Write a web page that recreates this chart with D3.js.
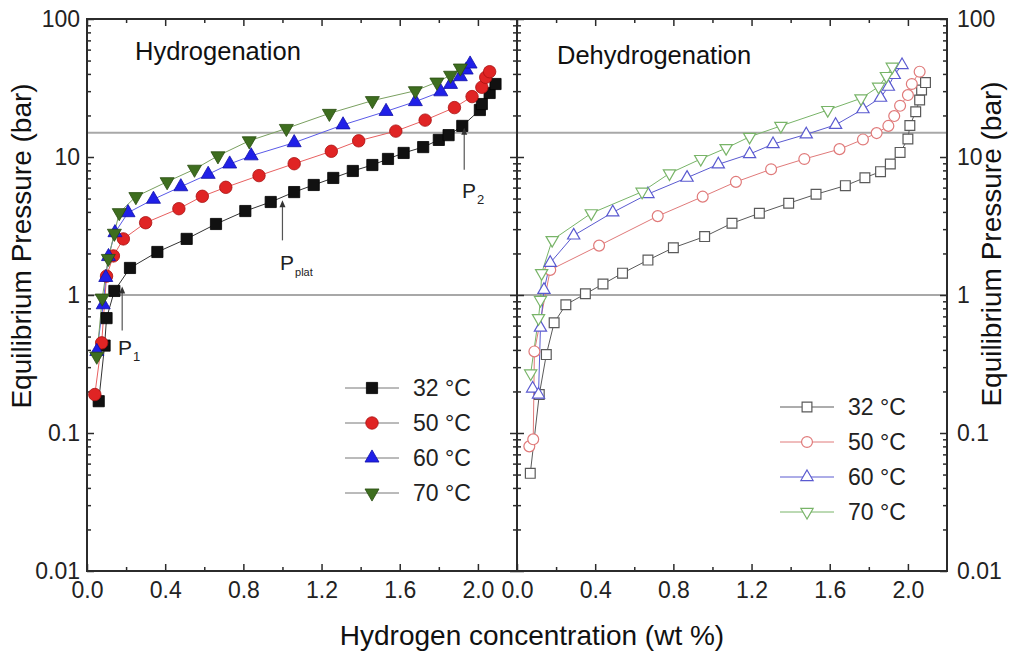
<!DOCTYPE html>
<html>
<head>
<meta charset="utf-8">
<script src="https://cdn.jsdelivr.net/npm/d3@7"></script>
<style>
  html, body { margin: 0; padding: 0; background: #fff; }
  svg { display: block; font-family: "Liberation Sans", Arial, Helvetica, sans-serif; }
</style>
</head>
<body>
<svg id="chart" width="1010" height="655"></svg>
<script>
// ---------------- data ----------------
const xTickValues = [0.0, 0.4, 0.8, 1.2, 1.6, 2.0];
const xMinorValues = [0.2, 0.6, 1.0, 1.4, 1.8];
const yTickValues = [0.01, 0.1, 1, 10, 100];
const refPressures = [1, 15];
const seriesLabels = ["32 °C", "50 °C", "60 °C", "70 °C"];
const panelTitles = ["Hydrogenation", "Dehydrogenation"];

// Hydrogenation (absorption)
const hydX32 = [0.06,0.09,0.10,0.14,0.22,0.36,0.51,0.66,0.81,0.94,1.06,1.16,1.26,1.36,1.46,1.54,1.62,1.72,1.80,1.85,1.92,2.01,2.02,2.06,2.09];
const hydP32 = [0.17,0.43,0.68,1.07,1.57,2.05,2.55,3.27,4.06,4.72,5.57,6.27,7.05,7.92,8.75,9.68,10.7,11.8,13.3,14.4,16.8,21.9,24.2,29.1,33.8];
const hydX50 = [0.04,0.075,0.10,0.135,0.186,0.30,0.47,0.59,0.71,0.88,1.06,1.25,1.39,1.58,1.73,1.88,1.97,2.02,2.04,2.06];
const hydP50 = [0.19,0.45,1.37,1.92,2.55,3.34,4.22,5.19,6.03,7.33,8.94,11.0,13.1,15.4,18.5,22.8,27.4,32.0,37.8,41.5];
const hydX60 = [0.05,0.083,0.096,0.11,0.143,0.21,0.34,0.48,0.62,0.73,0.84,1.06,1.31,1.53,1.68,1.81,1.86,1.91,1.94,1.96];
const hydP60 = [0.39,0.85,1.34,1.90,2.83,3.95,4.94,6.09,7.49,8.9,10.2,12.7,17.1,21.4,25.2,29.7,33.6,38.2,42.7,47.2];
const hydX70 = [0.05,0.078,0.109,0.14,0.165,0.25,0.41,0.55,0.67,0.83,1.02,1.24,1.46,1.68,1.79,1.86,1.91];
const hydP70 = [0.36,0.95,1.84,2.8,3.95,5.16,6.62,8.15,10.2,13.1,16.1,20.7,25.6,30.2,34.9,39.1,44.1];

// Dehydrogenation (desorption)
const dehX32 = [0.068,0.114,0.15,0.19,0.25,0.35,0.44,0.54,0.67,0.80,0.96,1.10,1.24,1.39,1.53,1.68,1.78,1.86,1.91,1.96,2.00,2.01,2.04,2.06,2.07,2.09];
const dehP32 = [0.051,0.19,0.37,0.63,0.85,1.02,1.2,1.44,1.79,2.2,2.65,3.31,3.91,4.62,5.37,6.2,7.08,7.83,8.9,10.8,13.5,16.9,21.3,25.9,30.6,34.6];
const dehX50 = [0.063,0.083,0.089,0.17,0.42,0.72,0.95,1.12,1.30,1.47,1.65,1.77,1.84,1.90,1.93,1.96,2.00,2.02,2.06];
const dehP50 = [0.08,0.09,0.39,1.52,2.28,3.73,5.16,6.6,8.15,9.67,11.4,13.4,14.9,16.8,19.8,23.5,28.1,33.8,41.5];
const dehX60 = [0.08,0.11,0.12,0.138,0.17,0.29,0.49,0.67,0.87,1.03,1.19,1.31,1.48,1.63,1.77,1.86,1.90,1.93,1.97];
const dehP60 = [0.21,0.19,0.58,1.09,1.71,2.70,3.97,5.39,7.08,8.85,10.5,12.4,14.6,17.1,22.2,26.9,32.3,39.3,46.4];
const dehX70 = [0.07,0.11,0.12,0.126,0.18,0.38,0.64,0.78,0.94,1.07,1.19,1.35,1.59,1.76,1.85,1.89,1.92];
const dehP70 = [0.27,0.68,0.92,1.44,2.5,3.91,5.6,7.6,9.67,11.6,14.0,16.8,21.9,26.6,32.3,38.6,45.1];

// annotations: [label, subscript, x (wt%), P (bar)] on hydrogenation panel
const annotations = [
  ["P", "1", 0.18, 1.15],
  ["P", "plat", 1.00, 4.85],
  ["P", "2", 1.93, 16.3]
];

// ---------------- layout ----------------
const svg = d3.select("#chart");
const L = 87, MID = 517, R = 947, TOP = 19, BOT = 571;
const xH = d3.scaleLinear().domain([0, 2.2]).range([L, MID]);
const xD = d3.scaleLinear().domain([0, 2.2]).range([MID, R]);
const y = d3.scaleLog().domain([0.01, 100]).range([BOT, TOP]);

const axisColor = "#2b2b2b";
const tickFont = 23;

const yMinor = [];
[-2, -1, 0, 1].forEach(k => { for (let m = 2; m <= 9; m++) yMinor.push(m * Math.pow(10, k)); });

function styleAxis(g, showText) {
  g.select(".domain").remove();
  g.selectAll(".tick line").attr("stroke", axisColor).attr("stroke-width", 1.5);
  g.selectAll(".tick text").attr("fill", "#222").attr("font-size", tickFont)
    .attr("font-family", "'Liberation Sans', Arial, sans-serif");
  if (!showText) g.selectAll(".tick text").remove();
}

// reference lines
const refG = svg.append("g");
refPressures.forEach(p => {
  refG.append("line").attr("x1", L).attr("x2", R).attr("y1", y(p)).attr("y2", y(p))
    .attr("stroke", "#a8a8a8").attr("stroke-width", 2);
});

// axes for each panel
[xH, xD].forEach((xs, i) => {
  const x0 = xs.range()[0], x1 = xs.range()[1];
  // bottom
  svg.append("g").attr("transform", `translate(0,${BOT})`)
    .call(d3.axisBottom(xs).tickValues(xTickValues).tickSize(-7).tickPadding(11).tickFormat(d3.format(".1f")))
    .call(g => styleAxis(g, true));
  svg.append("g").attr("transform", `translate(0,${BOT})`)
    .call(d3.axisBottom(xs).tickValues(xMinorValues).tickSize(-4))
    .call(g => styleAxis(g, false));
  // top
  svg.append("g").attr("transform", `translate(0,${TOP})`)
    .call(d3.axisTop(xs).tickValues(xTickValues).tickSize(-7))
    .call(g => styleAxis(g, false));
  svg.append("g").attr("transform", `translate(0,${TOP})`)
    .call(d3.axisTop(xs).tickValues(xMinorValues).tickSize(-4))
    .call(g => styleAxis(g, false));
  // left
  svg.append("g").attr("transform", `translate(${x0},0)`)
    .call(d3.axisLeft(y).tickValues(yTickValues).tickSize(-7).tickPadding(7).tickFormat(d3.format("~g")))
    .call(g => styleAxis(g, i === 0));
  svg.append("g").attr("transform", `translate(${x0},0)`)
    .call(d3.axisLeft(y).tickValues(yMinor).tickSize(-4))
    .call(g => styleAxis(g, false));
  // right
  svg.append("g").attr("transform", `translate(${x1},0)`)
    .call(d3.axisRight(y).tickValues(yTickValues).tickSize(-7).tickPadding(10).tickFormat(d3.format("~g")))
    .call(g => styleAxis(g, i === 1));
  svg.append("g").attr("transform", `translate(${x1},0)`)
    .call(d3.axisRight(y).tickValues(yMinor).tickSize(-4))
    .call(g => styleAxis(g, false));
  // frame
  svg.append("rect").attr("x", x0).attr("y", TOP).attr("width", x1 - x0).attr("height", BOT - TOP)
    .attr("fill", "none").attr("stroke", axisColor).attr("stroke-width", 2);
});

// ---------------- series ----------------
const shapes = ["square", "circle", "up", "down"];
const hydFill = ["#111111", "#e02424", "#2020e8", "#3e6e1f"];
const hydEdge = ["#000000", "#a81010", "#1010a8", "#284d10"];
const hydLine = ["#333333", "#e86060", "#5a5ae8", "#7aa060"];
const dehColor = ["#5a5a5a", "#e07a7a", "#5a5ad0", "#78b468"];

function symbolPath(shape, big) {
  const k = big ? 1.03 : 0.9;
  if (shape === "square") return d3.symbol(d3.symbolSquare, 118 * k * k)();
  if (shape === "circle") return d3.symbol(d3.symbolCircle, 115 * k * k)();
  return d3.symbol(d3.symbolTriangle, 80 * k * k)();
}

function drawMarker(g, shape, cx, cy, fill, stroke, sw, big) {
  const rot = shape === "down" ? 180 : 0;
  g.append("path").attr("d", symbolPath(shape, big))
    .attr("transform", `translate(${cx},${cy}) rotate(${rot})`)
    .attr("fill", fill).attr("stroke", stroke).attr("stroke-width", sw);
}

const hydSets = [[hydX32, hydP32], [hydX50, hydP50], [hydX60, hydP60], [hydX70, hydP70]];
const dehSets = [[dehX32, dehP32], [dehX50, dehP50], [dehX60, dehP60], [dehX70, dehP70]];

function drawSeries(sets, xs, filled) {
  const g = svg.append("g");
  sets.forEach(([xv, pv], i) => {
    const pts = xv.map((v, j) => [xs(v), y(pv[j])]);
    g.append("path").attr("d", d3.line()(pts)).attr("fill", "none")
      .attr("stroke", filled ? hydLine[i] : dehColor[i]).attr("stroke-width", 1);
  });
  sets.forEach(([xv, pv], i) => {
    xv.forEach((v, j) => {
      if (filled) drawMarker(g, shapes[i], xs(v), y(pv[j]), hydFill[i], hydEdge[i], 0.8, true);
      else drawMarker(g, shapes[i], xs(v), y(pv[j]), "#fff", dehColor[i], 1.2, false);
    });
  });
}
drawSeries(hydSets, xH, true);
drawSeries(dehSets, xD, false);

// ---------------- annotations ----------------
const annG = svg.append("g");
const annDrop = [[0, 44, 122, 355], [0, 40, 284, 270], [0, 42, 466, 198]];
annotations.forEach((a, i) => {
  const ax = xH(a[2]), ay = y(a[3]);
  const len = annDrop[i][1];
  annG.append("line").attr("x1", ax).attr("x2", ax).attr("y1", ay + 4).attr("y2", ay + len)
    .attr("stroke", "#555").attr("stroke-width", 1.2);
  annG.append("path").attr("d", `M${ax},${ay} L${ax - 3},${ay + 7} L${ax + 3},${ay + 7} Z`).attr("fill", "#333");
  const t = annG.append("text").attr("x", annDrop[i][2] - 4).attr("y", annDrop[i][3])
    .attr("font-size", 21).attr("fill", "#222");
  t.append("tspan").text(a[0]);
  t.append("tspan").attr("font-size", a[1] === "plat" ? 11 : 13).attr("dy", 6).attr("dx", 1).text(a[1]);
});

// ---------------- panel titles ----------------
svg.append("text").attr("x", 135).attr("y", 60).attr("font-size", 25.5).attr("fill", "#111").text(panelTitles[0]);
svg.append("text").attr("x", 557).attr("y", 64).attr("font-size", 25.5).attr("fill", "#111").text(panelTitles[1]);

// ---------------- legends ----------------
function legend(x0, yRows, filled) {
  const g = svg.append("g");
  yRows.forEach((ry, i) => {
    g.append("line").attr("x1", x0).attr("x2", x0 + 54).attr("y1", ry).attr("y2", ry)
      .attr("stroke", filled ? "#777" : dehColor[i]).attr("stroke-width", 1);
    if (filled) drawMarker(g, shapes[i], x0 + 27, ry, hydFill[i], hydEdge[i], 0.8, true);
    else drawMarker(g, shapes[i], x0 + 27, ry, "#fff", dehColor[i], 1.2, false);
    g.append("text").attr("x", x0 + 68).attr("y", ry + 8).attr("font-size", 23).attr("fill", "#222")
      .text(seriesLabels[i]);
  });
}
legend(345, [388, 423, 458, 493], true);
legend(780, [407, 442, 477, 512], false);

// ---------------- axis titles ----------------
svg.append("text").attr("x", 532).attr("y", 645).attr("text-anchor", "middle")
  .attr("font-size", 28).attr("fill", "#111").text("Hydrogen concentration (wt %)");
svg.append("text").attr("transform", "translate(31,246) rotate(-90)").attr("text-anchor", "middle")
  .attr("font-size", 28).attr("fill", "#111").text("Equilibrium Pressure (bar)");
svg.append("text").attr("transform", "translate(1001,244) rotate(-90)").attr("text-anchor", "middle")
  .attr("font-size", 28).attr("fill", "#111").text("Equilibrium Pressure (bar)");
</script>
</body>
</html>
